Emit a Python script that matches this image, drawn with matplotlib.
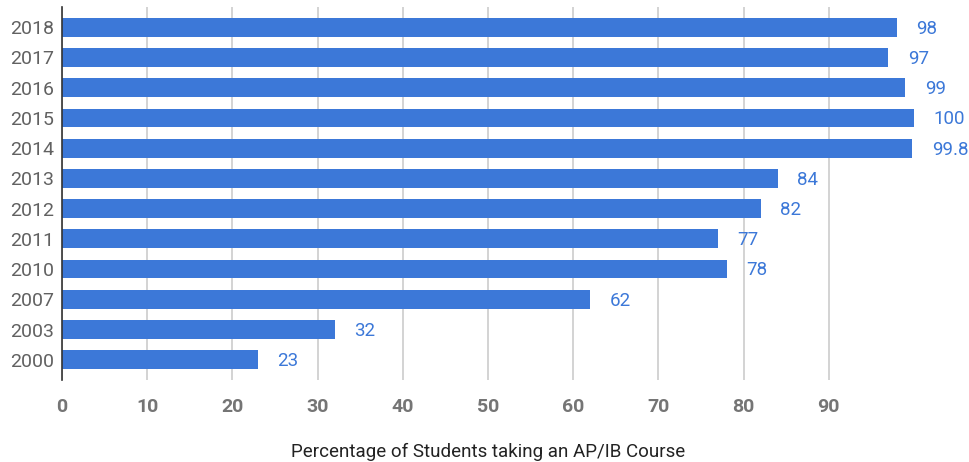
import matplotlib.pyplot as plt

# Data ===========================================
years = ['2018', '2017', '2016', '2015', '2014', '2013',
         '2012', '2011', '2010', '2007', '2003', '2000']
pct = [98, 97, 99, 100, 99.8, 84, 82, 77, 78, 62, 32, 23]
pct_labels = ['98', '97', '99', '100', '99.8', '84',
              '82', '77', '78', '62', '32', '23']
x_ticks = [0, 10, 20, 30, 40, 50, 60, 70, 80, 90]

plt.rcParams['font.family'] = ['Roboto', 'DejaVu Sans']

blue = '#3c78d8'

fig = plt.figure(figsize=(9.69, 4.62), dpi=100)
ax = fig.add_axes([62 / 969, 1 - 380 / 462, (914 - 62) / 969, 373 / 462])

pos = list(range(len(years)))
ax.barh(pos, pct, height=0.62, color=blue, zorder=2)
ax.set_ylim(len(years) - 0.5 + 0.17, -0.5 - 0.17)
ax.set_xlim(0, 100)

for p, v, lab in zip(pos, pct, pct_labels):
    ax.annotate(lab, (v, p), xytext=(14, -1), textcoords='offset points',
                va='center', ha='left', color=blue, fontsize=13.5,
                annotation_clip=False)

# axes styling
ax.set_xticks(x_ticks)
ax.set_xticklabels([str(t) for t in x_ticks], fontweight='bold',
                   color='#757575', fontsize=14)
ax.set_yticks(pos)
ax.set_yticklabels(years, color='#616161', fontsize=14)
ax.tick_params(axis='x', length=0, pad=13)
ax.tick_params(axis='y', length=0, pad=6)
ax.grid(axis='x', color='#cccccc', linewidth=1.2, zorder=0)
for s in ['top', 'right', 'bottom']:
    ax.spines[s].set_visible(False)
ax.spines['left'].set_color('#333333')
ax.spines['left'].set_linewidth(1.2)
ax.spines['left'].set_zorder(3)

ax.set_xlabel('Percentage of Students taking an AP/IB Course',
              color='#222222', fontsize=13.5, labelpad=19)

fig.savefig('out.png', dpi=100)
